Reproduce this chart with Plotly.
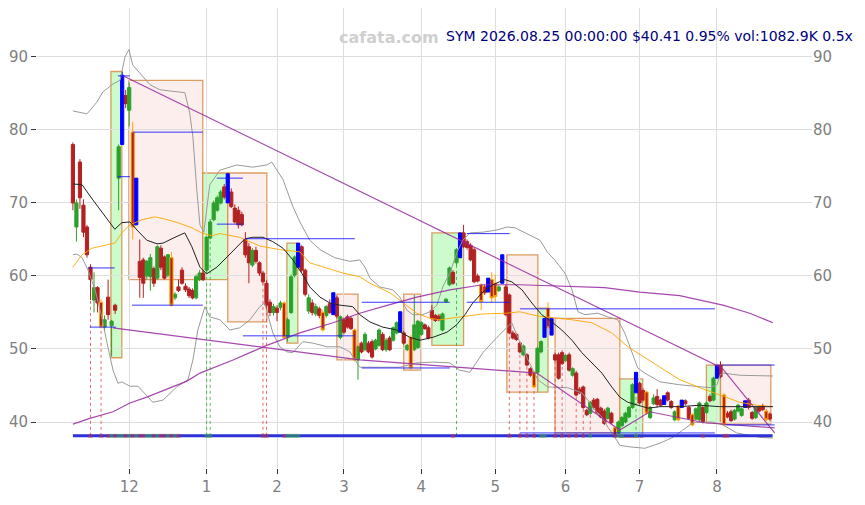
import plotly.graph_objects as go

# --- 1. PRICE DATA (daily candles, oldest first) ---
OPEN = [78.0, 66.7, 75.6, 69.7, 66.7, 61.2, 56.7, 58.4, 56.4, 53.0,
        57.1, 53.2, 56.0, 73.4, 78.0, 84.7, 82.7, 79.7, 67.0, 62.0,
        62.2, 60.0, 59.9, 61.0, 59.7, 63.8, 62.6, 60.1, 62.5, 57.0,
        58.5, 60.8, 58.6, 58.2, 58.0, 57.0, 59.5, 60.4, 60.8, 65.2,
        67.7, 69.0, 70.0, 72.2, 70.0, 71.5, 69.3, 69.0, 68.4, 65.0,
        64.0, 61.5, 63.5, 61.8, 60.4, 59.0, 56.4, 55.0, 55.6, 55.7,
        56.3, 51.6, 55.0, 60.1, 61.2, 64.0, 60.8, 55.2, 56.3, 54.8,
        55.5, 55.0, 54.6, 56.2, 54.7, 57.0, 51.6, 54.0, 54.4, 54.2,
        52.6, 48.5, 50.8, 49.9, 50.8, 51.0, 50.0, 50.5, 52.0, 49.9,
        51.5, 51.2, 52.2, 52.3, 52.2, 49.9, 51.6, 49.9, 50.2, 52.0,
        53.3, 52.9, 55.3, 54.6, 54.5, 52.6, 56.5, 58.8, 60.5, 61.8,
        62.5, 65.9, 64.7, 64.2, 63.6, 60.0, 58.8, 58.5, 57.8, 59.5,
        59.0, 58.0, 59.0, 58.5, 57.4, 52.2, 52.0, 50.8, 49.2, 49.2,
        47.3, 46.8, 46.8, 49.6, 51.6, 55.6, 51.9, 49.2, 49.2, 49.5,
        48.4, 49.2, 46.4, 46.7, 44.5, 44.8, 41.6, 41.2, 43.0, 43.1,
        41.9, 41.5, 40.5, 41.2, 39.2, 38.5, 39.5, 40.0, 40.7, 42.0,
        44.0, 45.3, 44.3, 44.1, 40.6, 42.5, 43.5, 43.0, 42.4, 44.0,
        42.8, 40.3, 42.2, 42.0, 42.9, 42.0, 41.0, 40.4, 40.3, 42.0,
        41.3, 43.5, 43.0, 46.0, 47.8, 43.7, 41.2, 41.4, 40.4, 41.5,
        40.9, 42.0, 43.0, 41.3, 40.6, 42.0, 42.2, 41.5, 41.1]
HIGH = [78.3, 70.5, 76.0, 70.5, 67.0, 61.6, 60.5, 58.6, 56.8, 54.6,
        59.5, 54.0, 56.2, 78.0, 88.0, 85.5, 86.5, 81.1, 73.4, 65.0,
        62.5, 62.2, 63.0, 61.3, 64.2, 64.2, 62.8, 63.0, 63.3, 57.8,
        59.5, 61.2, 59.0, 58.5, 58.3, 60.2, 60.8, 60.8, 65.5, 67.8,
        70.3, 71.0, 71.8, 72.6, 74.0, 72.0, 69.8, 69.5, 68.8, 66.0,
        64.5, 63.8, 64.0, 62.0, 60.7, 59.4, 56.8, 56.2, 56.0, 56.6,
        56.5, 54.3, 60.2, 62.8, 64.5, 64.2, 61.0, 57.5, 56.8, 56.2,
        55.8, 55.4, 56.0, 56.8, 57.7, 57.3, 54.6, 54.3, 54.7, 54.5,
        52.8, 50.5, 51.0, 52.3, 51.1, 51.3, 51.4, 52.8, 52.3, 51.5,
        51.8, 53.1, 53.8, 55.1, 52.5, 50.7, 51.9, 57.4, 54.0, 53.8,
        53.5, 53.2, 56.0, 54.8, 54.8, 55.0, 57.0, 61.3, 60.8, 63.8,
        65.9, 67.0, 65.0, 64.5, 63.9, 60.3, 59.0, 58.8, 59.7, 60.5,
        60.2, 58.7, 62.9, 58.8, 57.6, 52.5, 52.2, 51.0, 50.6, 49.4,
        47.5, 47.0, 50.3, 51.2, 54.2, 56.4, 54.2, 49.5, 49.5, 49.8,
        49.3, 49.5, 47.5, 47.0, 44.8, 45.0, 41.8, 42.9, 43.3, 43.3,
        42.1, 41.8, 42.1, 41.4, 39.4, 40.2, 40.8, 41.4, 42.2, 45.3,
        46.8, 45.5, 44.6, 44.3, 42.2, 43.8, 44.5, 43.2, 43.6, 44.2,
        43.0, 41.6, 42.4, 43.0, 43.1, 42.2, 41.2, 42.0, 42.8, 42.2,
        42.8, 43.8, 46.2, 47.8, 48.3, 44.0, 41.5, 41.7, 41.8, 42.5,
        42.0, 42.9, 43.3, 41.5, 42.2, 42.2, 42.5, 41.8, 41.3]
LOW = [69.0, 64.7, 69.2, 65.3, 62.5, 56.7, 55.0, 55.0, 52.8, 52.5,
       54.0, 49.0, 54.8, 69.0, 78.0, 83.0, 80.5, 65.0, 67.0, 57.0,
       57.0, 59.5, 58.0, 58.5, 59.5, 60.8, 59.5, 59.8, 55.8, 56.7,
       57.8, 58.8, 57.8, 57.0, 56.8, 56.8, 59.3, 59.3, 60.3, 65.0,
       67.5, 68.8, 69.8, 70.5, 70.0, 69.3, 67.2, 66.5, 66.8, 62.5,
       59.0, 61.2, 61.7, 60.0, 58.8, 55.6, 54.5, 54.6, 53.8, 55.3,
       51.4, 51.0, 54.8, 59.8, 61.2, 60.5, 57.2, 54.8, 54.6, 54.5,
       54.2, 52.4, 54.3, 54.8, 54.7, 54.2, 51.3, 52.0, 52.8, 52.6,
       48.3, 45.8, 49.4, 49.7, 49.4, 48.7, 49.8, 50.3, 49.7, 49.6,
       49.7, 51.0, 52.0, 52.3, 50.6, 49.7, 47.2, 49.7, 50.0, 51.8,
       52.6, 51.3, 54.0, 53.7, 53.8, 52.4, 56.3, 58.6, 58.8, 61.5,
       62.5, 63.8, 63.6, 62.0, 59.0, 59.1, 55.3, 57.4, 57.8, 56.4,
       56.5, 57.8, 59.0, 54.5, 52.0, 51.3, 51.1, 49.4, 49.0, 47.6,
       46.2, 44.6, 46.6, 49.4, 51.6, 52.7, 51.9, 48.3, 45.8, 47.8,
       48.2, 46.9, 46.2, 43.5, 43.8, 41.8, 40.8, 41.0, 41.7, 41.1,
       40.5, 39.6, 40.3, 39.7, 37.8, 38.3, 39.3, 39.8, 40.5, 41.8,
       44.0, 42.4, 42.8, 41.0, 40.4, 42.3, 42.0, 42.1, 42.4, 42.8,
       41.8, 40.1, 40.1, 42.0, 42.3, 40.3, 39.4, 40.2, 40.1, 39.8,
       41.1, 42.7, 42.8, 46.0, 46.0, 39.4, 40.5, 40.0, 40.2, 41.3,
       40.7, 42.0, 41.7, 40.3, 40.4, 41.3, 41.5, 40.1, 40.2]
CLOSE = [70.0, 70.0, 70.7, 66.0, 62.9, 59.5, 58.4, 56.3, 53.0, 54.0,
         54.7, 53.8, 55.3, 77.7, 87.5, 83.6, 85.8, 66.7, 73.4, 59.8,
         59.0, 62.0, 62.5, 59.0, 64.0, 61.2, 59.7, 62.9, 56.0, 57.5,
         58.0, 59.0, 58.1, 57.3, 57.0, 59.9, 60.4, 59.5, 65.3, 67.4,
         70.0, 70.7, 71.5, 70.8, 74.0, 69.5, 67.4, 67.0, 67.0, 62.9,
         61.8, 63.5, 62.0, 60.4, 59.2, 56.0, 55.0, 55.8, 55.0, 56.3,
         51.6, 54.0, 59.9, 62.6, 64.5, 60.8, 57.5, 57.0, 55.0, 55.8,
         54.6, 52.6, 55.8, 55.0, 57.7, 54.5, 54.4, 52.3, 53.0, 52.8,
         48.5, 50.3, 49.6, 52.0, 49.6, 48.9, 51.2, 52.6, 49.9, 51.2,
         49.9, 52.9, 53.6, 55.1, 50.8, 50.5, 47.4, 53.3, 53.8, 53.6,
         52.8, 51.5, 54.2, 53.9, 54.0, 54.8, 56.8, 61.1, 59.0, 63.6,
         65.9, 64.0, 63.9, 62.2, 59.2, 59.3, 56.5, 57.7, 59.7, 57.0,
         57.2, 58.5, 62.9, 54.7, 52.2, 51.5, 51.3, 49.6, 50.4, 47.8,
         46.4, 44.8, 50.1, 51.0, 54.2, 52.9, 54.2, 48.5, 46.0, 48.0,
         49.1, 47.1, 47.3, 43.7, 44.0, 42.0, 41.0, 42.7, 42.0, 41.3,
         40.7, 39.8, 41.9, 39.9, 38.0, 40.0, 40.6, 41.2, 42.0, 45.1,
         46.8, 42.6, 43.0, 41.2, 42.0, 43.3, 42.4, 42.3, 43.6, 43.0,
         42.0, 41.4, 40.3, 43.0, 42.5, 40.5, 39.6, 41.8, 42.6, 40.0,
         42.6, 42.9, 46.0, 47.8, 46.2, 39.6, 40.7, 40.2, 41.6, 42.3,
         41.8, 42.9, 42.0, 40.5, 42.0, 41.5, 41.7, 40.3, 40.41]

# highlighted candles
BLUE_IDX = [14, 18, 44, 64, 74, 93, 110, 118, 122, 134, 136, 160, 168, 173, 183, 191]
ORANGE_IDX = [8, 17, 28, 60, 71, 80, 96, 116, 119, 120, 131, 135, 154, 163, 172, 176, 185, 197]

MONTH_POS = [16, 38, 58, 77, 99, 120, 140, 161, 183]
MONTH_LABELS = ['12', '1', '2', '3', '4', '5', '6', '7', '8']
Y_TICKS = [40, 50, 60, 70, 80, 90]

# --- 2. INDICATOR LINES ---
MA_S_IDX = [0, 2.6, 5.7, 8.5, 11.9, 13.9, 16.2, 18.2, 21, 23.9, 25.6, 29, 31.8, 33.8, 36.1, 38,
            40.9, 43.8, 46.6, 48.9, 51.1, 54, 56.8, 59.7, 62.5, 65, 67.3, 70.2, 73, 75.9, 79.5,
            81.5, 84.4, 88, 92, 95.7, 98.6, 102.3, 106.3, 109, 111.4, 113.6, 116.5, 119.3, 122.7,
            124.7, 127.6, 130.4, 133.2, 136.1, 138.9, 141.8, 144.6, 147.4, 150.3, 153.1, 155.4,
            157.7, 160.5, 163.4, 166.8, 172.4, 178.1, 183.8, 189.5, 198.9]
MA_S_VAL = [72.6, 72.5, 70.4, 68.6, 66.4, 67.3, 67.4, 66.3, 64.9, 64.4, 64.5, 65.3, 65.9, 64.0, 61.2, 60.3,
            61.2, 62.6, 64.0, 65.1, 65.3, 65.3, 64.7, 63.8, 62.2, 60.4, 58.5, 57.1, 56.3, 56.0, 55.8,
            54.7, 53.7, 53.0, 52.6, 51.6, 51.2, 51.6, 52.3, 53.3, 54.7, 56.3, 57.8, 58.8, 59.5,
            59.2, 58.1, 56.3, 54.7, 53.7, 52.6, 51.2, 49.5, 48.1, 46.7, 44.8, 43.4,
            42.7, 42.3, 41.9, 42.1, 42.1, 42.3, 42.1, 42.1, 42.1]

MA_L_IDX = [0, 2.6, 5.4, 8.2, 11.9, 13.9, 16.2, 19.6, 23.3, 26.1, 29.8, 33.8, 36.6, 39.5, 41.8, 47.4,
            53.1, 58.8, 64.5, 67.3, 72.2, 76.7, 81.5, 84.4, 90.1, 94.9, 97.7, 101.4, 104.3, 107.1,
            110.8, 116.5, 123.3, 127, 132.1, 141.8, 147.4, 153.1, 157.7, 162.5, 166.8, 172.4,
            178.1, 183.8, 189.5, 194.3, 198.9]
MA_L_VAL = [61.2, 62.9, 63.8, 64.1, 64.5, 65.9, 67.0, 67.7, 68.1, 67.8, 67.3, 66.6, 65.9, 65.5, 65.8, 65.3,
            64.1, 63.6, 63.3, 61.8, 61.1, 60.4, 59.9, 59.0, 57.7, 56.0, 54.9, 54.2, 54.0, 54.2,
            54.4, 54.8, 54.9, 55.1, 54.5, 54.0, 53.6, 52.2, 50.3, 48.8, 47.5, 45.8,
            44.7, 43.7, 42.7, 42.3, 42.1]

BAND_UP_IDX = [0, 4, 6.8, 8.5, 11.4, 13.4, 14.8, 15.9, 17, 19, 21.9, 24.7, 28.4, 31.8, 33.2, 34.1,
               35.2, 36.1, 37.2, 38.9, 41.8, 46.6, 51.1, 55.1, 56.5, 59.7, 62.5, 64.5, 67.3, 70.2,
               74.4, 78.7, 81.5, 83, 84.4, 87.2, 90.9, 92.9, 94.9, 96.6, 99.4, 101.4, 103.4, 105.1,
               107.1, 109.1, 110.8, 112.8, 116.5, 120.5, 123.3, 125.6, 132.7, 134.9, 136.9, 139.8,
               141.8, 143.5, 145.5, 149.1, 152, 154.8, 156.8, 158.8, 160.5, 162.5, 166.8, 172.4,
               178.1, 181, 183, 183.8, 184.7, 189.5, 198.9]
BAND_UP_VAL = [82.6, 82.2, 83.8, 85.2, 86.3, 86.8, 90.0, 91.0, 88.9, 87.8, 86.2, 85.5, 85.3, 85.1, 82.3, 79.0,
               71.8, 67.0, 66.0, 72.5, 74.5, 75.2, 74.9, 75.2, 75.6, 73.2, 69.5, 67.4, 64.9, 63.6,
               62.5, 62.0, 62.2, 61.2, 59.7, 58.5, 58.1, 57.1, 55.3, 54.7, 54.7, 55.1, 56.0, 58.5,
               60.4, 63.2, 64.9, 65.9, 66.0, 66.3, 66.7, 66.6, 64.9, 63.2, 62.2, 60.4,
               58.1, 55.1, 54.7, 54.9, 54.4, 54.0, 52.2, 49.5, 47.4, 46.7, 45.5, 45.1,
               44.8, 44.7, 45.1, 46.4, 46.7, 46.4, 46.3]

BAND_LO_IDX = [0, 1.1, 2.6, 4.3, 6.3, 8.2, 9.7, 11.4, 12.8, 13.9, 16.2, 18.5, 22.7, 25.6, 29.5, 32.7,
               34.1, 35.5, 37.5, 38.9, 41.8, 44.6, 47.4, 50.3, 53.1, 54.5, 56.8, 58.8, 60.8, 62.5,
               65.3, 68.2, 72.2, 75.9, 78.7, 81.5, 87.2, 92.9, 97.7, 102.3, 107.1, 109.9, 112.8,
               116.5, 120.5, 123.3, 124.7, 126.4, 129.3, 132.1, 134.9, 140.6, 144.6, 146.3, 148.3,
               150.3, 152, 154, 155.4, 158.2, 162.5, 166.8, 170.5, 173.3, 176.1, 181.8, 184.7,
               188.6, 195.2, 198.9]
BAND_LO_VAL = [62.9, 63.0, 62.5, 60.8, 58.1, 54.4, 50.8, 47.1, 45.3, 45.5, 44.9, 44.9, 42.7, 43.0, 44.8, 45.8,
               48.5, 52.6, 55.8, 54.4, 54.0, 52.6, 52.9, 54.0, 55.8, 56.3, 52.2, 50.3, 49.6, 49.5,
               51.0, 50.8, 50.3, 50.3, 49.6, 47.5, 47.5, 47.5, 48.1, 48.2, 48.1, 47.1, 46.8,
               49.5, 51.6, 53.0, 53.6, 51.6, 48.5, 45.8, 44.8, 44.7, 44.0, 43.0, 41.6,
               40.7, 39.3, 37.9, 36.8, 36.6, 36.4, 37.1, 37.9, 38.9, 39.9, 40.0, 39.6,
               38.5, 37.9, 37.8]

MA_XL_IDX = [0, 4.8, 11.4, 16.2, 21, 26.7, 32.4, 36.1, 45.5, 55.1, 64.5, 73.9, 81.5, 88, 97.7,
             107.1, 116.5, 127, 141.8, 151.1, 161.1, 172.4, 184.7, 192.3, 198.9]
MA_XL_VAL = [39.7, 40.5, 41.4, 42.6, 43.4, 44.5, 45.6, 46.7, 48.5, 50.5, 52.2, 53.6, 54.9, 55.8, 57.1,
             58.1, 58.8, 58.8, 58.5, 58.4, 57.8, 57.3, 56.0, 54.9, 53.6]

TREND_HI_IDX = [13.9, 184.4, 199.4]
TREND_HI_VAL = [87.5, 47.4, 38.5]
TREND_LO_IDX = [11.4, 40.3, 81.5, 131.8, 155.4, 163.9, 179.5, 199.4]
TREND_LO_VAL = [52.9, 51.1, 48.5, 46.7, 38.9, 41.4, 39.9, 39.2]

# --- 3. BOXES, LEVELS, SIGNALS ---
BOX_START = [10.8, 15.9, 36.9, 44.0, 60.8, 75.0, 94.0, 102.0, 123.3, 132.1, 137.0, 155.4, 180.0, 184.0]
BOX_END = [13.9, 36.9, 44.0, 55.1, 63.9, 81.0, 98.9, 111.0, 132.1, 135.0, 155.4, 161.9, 184.0, 198.3]
BOX_TOP = [88.0, 86.8, 74.1, 74.1, 64.5, 57.5, 57.5, 65.9, 62.9, 55.6, 54.2, 45.9, 47.8, 47.8]
BOX_BOTTOM = [48.8, 59.5, 59.5, 53.7, 50.8, 48.5, 47.1, 50.5, 44.1, 44.1, 38.5, 37.9, 39.9, 39.7]
BOX_UP = [True, False, True, False, True, False, False, True, False, True, False, True, True, False]

LEVEL_START = [4.3, 4.8, 12.8, 12.8, 17.0, 16.8, 40.9, 40.9, 48.9, 48.3, 82.1, 82.1,
               111.9, 111.9, 127.0, 127.0, 184.4, 185.5]
LEVEL_END = [11.9, 12.2, 16.2, 16.2, 36.9, 36.9, 48.3, 48.3, 80.1, 80.1, 107.1, 107.1,
             124.1, 124.1, 182.4, 182.4, 199.4, 199.4]
LEVEL_PRICE = [61.1, 53.0, 73.6, 87.4, 79.7, 56.0, 73.4, 67.1, 65.1, 51.8, 56.4, 47.4,
               65.8, 56.4, 55.5, 38.5, 47.8, 39.6]

SELL_IDX = [5, 8, 54, 55, 124, 127, 129, 131, 137, 139, 143, 145, 147]
BUY_IDX = [38, 39, 109, 160]
MARK_IDX = [5, 8] + list(range(10, 31)) + [38, 39, 54, 55, 60, 61, 62, 63, 64, 108, 124, 127, 129,
            131, 133, 134, 137, 139, 141, 143, 145, 147, 154, 155, 156, 160, 179, 185, 186]
BASE_LEVEL = 38.1

N = len(CLOSE)
X = list(range(N))

GREEN = '#2ca02c'
RED = '#b22222'

fig = go.Figure()

# bands and averages
fig.add_trace(go.Scatter(x=BAND_UP_IDX, y=BAND_UP_VAL, mode='lines',
                         line=dict(color='#9a9a9a', width=1), hoverinfo='skip'))
fig.add_trace(go.Scatter(x=BAND_LO_IDX, y=BAND_LO_VAL, mode='lines',
                         line=dict(color='#9a9a9a', width=1), hoverinfo='skip'))
fig.add_trace(go.Scatter(x=MA_L_IDX, y=MA_L_VAL, mode='lines',
                         line=dict(color='rgba(255,165,0,0.9)', width=1), hoverinfo='skip'))
fig.add_trace(go.Scatter(x=MA_XL_IDX, y=MA_XL_VAL, mode='lines',
                         line=dict(color='rgba(150,40,160,0.85)', width=1.2), hoverinfo='skip'))
fig.add_trace(go.Scatter(x=TREND_HI_IDX, y=TREND_HI_VAL, mode='lines',
                         line=dict(color='rgba(150,40,160,0.85)', width=1.2), hoverinfo='skip'))
fig.add_trace(go.Scatter(x=TREND_LO_IDX, y=TREND_LO_VAL, mode='lines',
                         line=dict(color='rgba(150,40,160,0.85)', width=1.2), hoverinfo='skip'))

# signal verticals from baseline to candle low
def verticals(idx_list):
    xs, ys = [], []
    for i in idx_list:
        xs += [i, i, None]
        ys += [BASE_LEVEL, LOW[i], None]
    return xs, ys

sx, sy = verticals(SELL_IDX)
fig.add_trace(go.Scatter(x=sx, y=sy, mode='lines', hoverinfo='skip',
                         line=dict(color='rgba(220,60,60,0.75)', width=1, dash='dot')))
bx, by = verticals(BUY_IDX)
fig.add_trace(go.Scatter(x=bx, y=by, mode='lines', hoverinfo='skip',
                         line=dict(color='rgba(40,160,40,0.75)', width=1, dash='dot')))

# candles
normal = [i for i in X if i not in BLUE_IDX and i not in ORANGE_IDX]

def candles(idx, inc_line, inc_fill, dec_line, dec_fill):
    return go.Candlestick(
        x=idx, open=[OPEN[i] for i in idx], high=[HIGH[i] for i in idx],
        low=[LOW[i] for i in idx], close=[CLOSE[i] for i in idx],
        increasing=dict(line=dict(color=inc_line, width=1), fillcolor=inc_fill),
        decreasing=dict(line=dict(color=dec_line, width=1), fillcolor=dec_fill),
        whiskerwidth=0, hoverinfo='skip', showlegend=False)

fig.add_trace(candles(normal, GREEN, GREEN, RED, RED))
fig.add_trace(candles(ORANGE_IDX, '#ffa500', GREEN, '#ffa500', RED))
fig.add_trace(candles(BLUE_IDX, '#0000ff', '#0000ff', '#0000ff', '#0000ff'))

fig.add_trace(go.Scatter(x=MA_S_IDX, y=MA_S_VAL, mode='lines',
                         line=dict(color='#222222', width=1), hoverinfo='skip'))

# horizontal levels
lx, ly = [], []
for s, e, p in zip(LEVEL_START, LEVEL_END, LEVEL_PRICE):
    lx += [s, e, None]
    ly += [p, p, None]
fig.add_trace(go.Scatter(x=lx, y=ly, mode='lines', hoverinfo='skip',
                         line=dict(color='rgba(20,20,255,0.85)', width=1)))

# baseline and markers
fig.add_trace(go.Scatter(x=[X[0], X[-1] + 0.8], y=[BASE_LEVEL, BASE_LEVEL], mode='lines',
                         line=dict(color='#2a32d8', width=3), hoverinfo='skip'))
mark_colors = ['rgba(60,170,80,0.5)' if CLOSE[i] >= OPEN[i] else 'rgba(200,50,70,0.5)'
               for i in MARK_IDX]
fig.add_trace(go.Scatter(x=MARK_IDX, y=[BASE_LEVEL] * len(MARK_IDX), mode='markers',
                         marker=dict(symbol='square', size=4, color=mark_colors),
                         hoverinfo='skip'))

# right axis companion
fig.add_trace(go.Scatter(x=[X[-1]], y=[CLOSE[-1]], yaxis='y2', mode='markers',
                         marker=dict(opacity=0), hoverinfo='skip'))

# boxes
shapes = []
for s, e, t, b, up in zip(BOX_START, BOX_END, BOX_TOP, BOX_BOTTOM, BOX_UP):
    shapes.append(dict(type='rect', xref='x', yref='y', x0=s, x1=e, y0=b, y1=t,
                       fillcolor='#ccfccc' if up else '#fdeeee',
                       line=dict(color='rgba(215,140,70,0.85)', width=1.3), layer='below'))

Y_RANGE = [33.7, 96.7]
X_RANGE = [-10.2, 210]

# the page body adds an 8px offset, margins compensate for it
fig.update_layout(
    width=865, height=505,
    margin=dict(l=29, r=61, t=0, b=45),
    paper_bgcolor='white', plot_bgcolor='white',
    showlegend=False,
    boxgap=0.1, boxgroupgap=0,
    shapes=shapes,
    font=dict(family='DejaVu Sans', color='#808080', size=15),
    xaxis=dict(range=X_RANGE, tickvals=MONTH_POS, ticktext=MONTH_LABELS,
               showgrid=True, gridcolor='#dddddd', gridwidth=1, zeroline=False,
               ticks='outside', ticklen=5, tickcolor='#333333', showline=False,
               rangeslider=dict(visible=False)),
    yaxis=dict(range=Y_RANGE, tickvals=Y_TICKS, showgrid=True, gridcolor='#dddddd',
               zeroline=False, ticks='outside', ticklen=5, tickcolor='#333333', showline=False),
    yaxis2=dict(range=Y_RANGE, tickvals=Y_TICKS, overlaying='y', side='right',
                showgrid=False, zeroline=False, ticks='', showline=False),
    annotations=[
        dict(text='<b>cafata.com</b>', xref='paper', yref='paper', x=0.454, y=0.961,
             showarrow=False, font=dict(size=16, color='#cfcfcf')),
        dict(text='SYM 2026.08.25 00:00:00 $40.41 0.95% vol:1082.9K 0.5x', xref='paper',
             yref='paper', x=1.055, y=0.961, xanchor='right', showarrow=False,
             font=dict(size=14, color='#000080')),
    ],
)

fig.write_html("out.html")
